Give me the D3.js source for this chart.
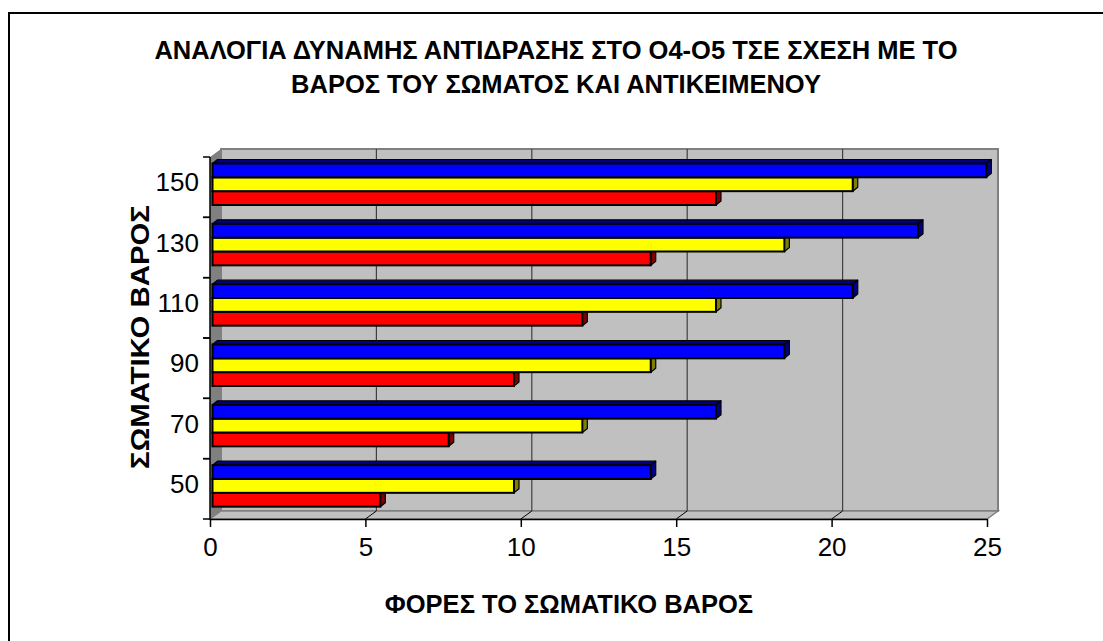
<!DOCTYPE html>
<html>
<head>
<meta charset="utf-8">
<script src="https://cdn.jsdelivr.net/npm/d3@7"></script>
<style>
  body { margin: 0; background: #fff; }
  text { font-family: Arial, "Liberation Sans", sans-serif; }
</style>
</head>
<body>
<svg></svg>
<script>
// data
let categories = ['50', '70', '90', '110', '130', '150'];
let redValues = [5.4, 7.6, 9.7, 11.9, 14.1, 16.2];
let yellowValues = [9.7, 11.9, 14.1, 16.2, 18.4, 20.6];
let blueValues = [14.1, 16.2, 18.4, 20.6, 22.7, 24.9];
let xTicks = [0, 5, 10, 15, 20, 25];
let titleLines = ['ΑΝΑΛΟΓΙΑ ΔΥΝΑΜΗΣ ΑΝΤΙΔΡΑΣΗΣ ΣΤΟ Ο4-Ο5 ΤΣΕ ΣΧΕΣΗ ΜΕ ΤΟ',
                  'ΒΑΡΟΣ ΤΟΥ ΣΩΜΑΤΟΣ ΚΑΙ ΑΝΤΙΚΕΙΜΕΝΟΥ'];
let xTitle = 'ΦΟΡΕΣ ΤΟ ΣΩΜΑΤΙΚΟ ΒΑΡΟΣ';
let yTitle = 'ΣΩΜΑΤΙΚΟ ΒΑΡΟΣ';

let series = [
  {name: 'red', values: redValues, fill: '#ff0000', dark: '#800000'},
  {name: 'yellow', values: yellowValues, fill: '#ffff00', dark: '#808000'},
  {name: 'blue', values: blueValues, fill: '#0000ff', dark: '#000080'}
];

// configuration
let config = {svg: {}, plot: {}, depth: {}};
config.svg.width = 1103;
config.svg.height = 641;
config.plot.left = 210;
config.plot.right = 987;
config.plot.top = 157;
config.plot.bottom = 519;
config.depth.dx = 11;   // back wall offset
config.depth.dy = -8;
config.bar = {dx: 5, dy: -4, shift: 2.5};

let svg = d3.select('svg')
  .attr('width', config.svg.width)
  .attr('height', config.svg.height);

// outer chart border
svg.append('rect')
  .attr('x', 9).attr('y', 13)
  .attr('width', 1110).attr('height', 650)
  .attr('fill', '#fff')
  .attr('stroke', '#000')
  .attr('stroke-width', 2);

let x = d3.scaleLinear().domain([0, 25]).range([config.plot.left, config.plot.right]);
let y = d3.scaleBand().domain(categories).range([config.plot.bottom, config.plot.top]);
let ySeries = d3.scaleBand().domain(['blue', 'yellow', 'red']).range([6.5, 48]);

let dx = config.depth.dx, dy = config.depth.dy;
let x0 = x(0), x1 = x(25);
let yt = config.plot.top, yb = config.plot.bottom;

function pts(arr) {
  return arr.map(p => p.join(',')).join(' ');
}

// back wall
svg.append('rect')
  .attr('x', x0 + dx).attr('y', yt + dy)
  .attr('width', x1 - x0).attr('height', yb - yt)
  .attr('fill', '#c0c0c0')
  .attr('stroke', '#808080')
  .attr('stroke-width', 2);

// floor
svg.append('polygon')
  .attr('points', pts([[x0, yb], [x0 + dx, yb + dy], [x1 + dx, yb + dy], [x1, yb]]))
  .attr('fill', '#c0c0c0')
  .attr('stroke', '#808080')
  .attr('stroke-width', 1.5);

// left wall
svg.append('polygon')
  .attr('points', pts([[x0, yt], [x0 + dx, yt + dy], [x0 + dx, yb + dy], [x0, yb]]))
  .attr('fill', '#808080');

// gridlines on back wall and floor
let grid = svg.append('g').attr('class', 'grid');
xTicks.filter(t => t > 0 && t < 25).forEach(function(t) {
  grid.append('line')
    .attr('x1', x(t) + dx).attr('x2', x(t) + dx)
    .attr('y1', yt + dy).attr('y2', yb + dy)
    .attr('stroke', '#404040').attr('stroke-width', 1.2);
  grid.append('line')
    .attr('x1', x(t) + dx).attr('x2', x(t))
    .attr('y1', yb + dy).attr('y2', yb)
    .attr('stroke', '#000').attr('stroke-width', 1);
});

// bars, drawn bottom series first so upper bars cover their top faces
let b = config.bar;
let bars = svg.append('g').attr('class', 'bars');
categories.forEach(function(cat, i) {
  series.forEach(function(s) {
    let xs = x(0) + b.shift;
    let xe = x(s.values[i]) + b.shift;
    let top = y(cat) + ySeries(s.name);
    let bot = top + ySeries.bandwidth();
    let g = bars.append('g');
    // top face
    g.append('polygon')
      .attr('points', pts([[xs, top], [xs + b.dx, top + b.dy], [xe + b.dx, top + b.dy], [xe, top]]))
      .attr('fill', s.dark).attr('stroke', '#000').attr('stroke-width', 1.2)
      .attr('stroke-linejoin', 'round');
    // side face
    g.append('polygon')
      .attr('points', pts([[xe, top], [xe + b.dx, top + b.dy], [xe + b.dx, bot + b.dy], [xe, bot]]))
      .attr('fill', s.dark).attr('stroke', '#000').attr('stroke-width', 1.2)
      .attr('stroke-linejoin', 'round');
    // front face
    g.append('rect')
      .attr('x', xs).attr('y', top)
      .attr('width', xe - xs).attr('height', bot - top)
      .attr('fill', s.fill).attr('stroke', '#000').attr('stroke-width', 2);
  });
});

// y axis: line with ticks at band edges, labels in between
let gy = svg.append('g').attr('class', 'y-axis');
gy.append('line')
  .attr('x1', x0).attr('x2', x0)
  .attr('y1', yt).attr('y2', yb)
  .attr('stroke', '#000').attr('stroke-width', 1.5);
categories.forEach(function(cat) {
  [y(cat), y(cat) + y.bandwidth()].forEach(function(v) {
    gy.append('line')
      .attr('x1', x0 - 7).attr('x2', x0)
      .attr('y1', v).attr('y2', v)
      .attr('stroke', '#000').attr('stroke-width', 1.5);
  });
});
let yLabels = svg.append('g')
  .attr('transform', 'translate(' + x0 + ',-4)')
  .call(d3.axisLeft(y).tickSize(0).tickPadding(11));
yLabels.select('.domain').remove();
yLabels.selectAll('text')
  .attr('font-size', 26)
  .attr('font-family', 'Arial, "Liberation Sans", sans-serif')
  .attr('fill', '#000');

// x axis
let gx = svg.append('g')
  .attr('transform', 'translate(0,' + yb + ')')
  .call(d3.axisBottom(x).tickValues(xTicks).tickSize(8).tickSizeOuter(0).tickPadding(11));
gx.select('.domain').attr('stroke-width', 1.5);
gx.selectAll('.tick line').attr('stroke-width', 1.5);
gx.selectAll('text')
  .attr('font-size', 26)
  .attr('font-family', 'Arial, "Liberation Sans", sans-serif')
  .attr('fill', '#000');

// titles
svg.selectAll('.title')
  .data(titleLines)
  .enter().append('text')
  .attr('class', 'title')
  .attr('x', 556)
  .attr('y', (d, i) => 59 + i * 34)
  .attr('text-anchor', 'middle')
  .attr('font-size', 25.5)
  .attr('font-weight', 'bold')
  .text(d => d);

svg.append('text')
  .attr('x', 569).attr('y', 613)
  .attr('text-anchor', 'middle')
  .attr('font-size', 25.5)
  .attr('font-weight', 'bold')
  .text(xTitle);

// the vertical title is a bit longer in the original
svg.append('text')
  .attr('transform', 'translate(149,337) rotate(-90) scale(1.13,1)')
  .attr('text-anchor', 'middle')
  .attr('font-size', 26)
  .attr('font-weight', 'bold')
  .text(yTitle);
</script>
</body>
</html>
